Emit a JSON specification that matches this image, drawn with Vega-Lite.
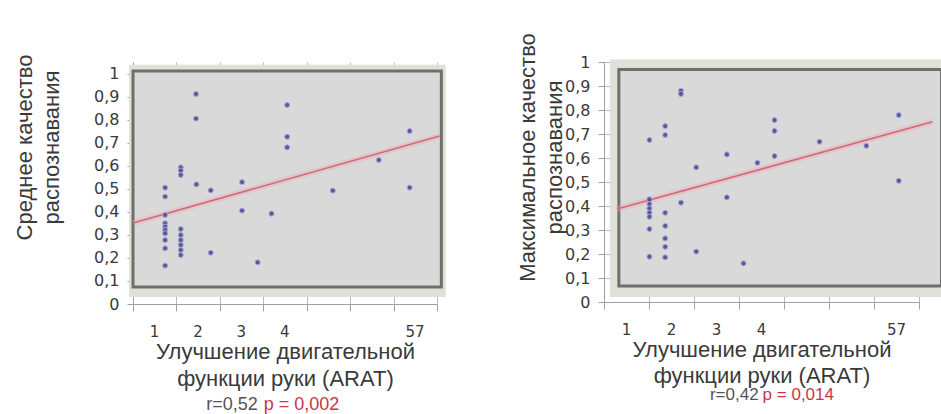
{
  "$schema": "https://vega.github.io/schema/vega-lite/v6.json",
  "padding": {"left": 13, "top": 32, "right": 0, "bottom": 0},
  "spacing": 58,
  "background": "white",
  "config": {
    "view": {"stroke": null},
    "axis": {
      "labelFont": "DejaVu Sans",
      "labelFontSize": 16,
      "labelColor": "#3a3a3a",
      "labelOverlap": false,
      "titleFont": "Liberation Sans",
      "titleFontSize": 22,
      "titleFontWeight": "normal",
      "titleColor": "#3a3a3a",
      "titleLineHeight": 27,
      "domainColor": "#a0a0a0",
      "tickColor": "#a0a0a0",
      "gridColor": "#bababa",
      "gridOpacity": 1,
      "zindex": 1
    }
  },
  "datasets": {
    "mean": [
      {"arat": 1.45, "q": 0.913}, {"arat": 1.45, "q": 0.806},
      {"arat": 3.55, "q": 0.865}, {"arat": 3.55, "q": 0.727}, {"arat": 3.55, "q": 0.681},
      {"arat": 6.37, "q": 0.752}, {"arat": 6.37, "q": 0.506},
      {"arat": 5.66, "q": 0.626}, {"arat": 4.6, "q": 0.493},
      {"arat": 2.51, "q": 0.53}, {"arat": 2.51, "q": 0.406},
      {"arat": 3.19, "q": 0.393}, {"arat": 2.87, "q": 0.181},
      {"arat": 1.79, "q": 0.223}, {"arat": 1.79, "q": 0.494},
      {"arat": 1.46, "q": 0.52},
      {"arat": 1.1, "q": 0.594}, {"arat": 1.1, "q": 0.58}, {"arat": 1.1, "q": 0.561},
      {"arat": 1.1, "q": 0.326}, {"arat": 1.1, "q": 0.3}, {"arat": 1.1, "q": 0.278},
      {"arat": 1.1, "q": 0.257}, {"arat": 1.1, "q": 0.235}, {"arat": 1.1, "q": 0.213},
      {"arat": 0.74, "q": 0.506}, {"arat": 0.74, "q": 0.467}, {"arat": 0.74, "q": 0.387},
      {"arat": 0.74, "q": 0.351}, {"arat": 0.74, "q": 0.336}, {"arat": 0.74, "q": 0.322},
      {"arat": 0.74, "q": 0.307}, {"arat": 0.74, "q": 0.278}, {"arat": 0.74, "q": 0.242},
      {"arat": 0.74, "q": 0.167}
    ],
    "meanFit": [{"arat": 0, "q": 0.352}, {"arat": 7.06, "q": 0.73}],
    "max": [
      {"arat": 1.71, "q": 0.88}, {"arat": 1.71, "q": 0.867},
      {"arat": 1.36, "q": 0.733}, {"arat": 1.36, "q": 0.696},
      {"arat": 1.01, "q": 0.675},
      {"arat": 2.05, "q": 0.561}, {"arat": 2.73, "q": 0.615}, {"arat": 2.73, "q": 0.436},
      {"arat": 3.41, "q": 0.58},
      {"arat": 3.79, "q": 0.758}, {"arat": 3.79, "q": 0.713}, {"arat": 3.79, "q": 0.608},
      {"arat": 4.79, "q": 0.668}, {"arat": 5.83, "q": 0.651},
      {"arat": 6.55, "q": 0.779}, {"arat": 6.55, "q": 0.505},
      {"arat": 1.71, "q": 0.414}, {"arat": 2.05, "q": 0.21}, {"arat": 3.1, "q": 0.161},
      {"arat": 1.36, "q": 0.372}, {"arat": 1.36, "q": 0.317}, {"arat": 1.36, "q": 0.265},
      {"arat": 1.36, "q": 0.23}, {"arat": 1.36, "q": 0.186},
      {"arat": 1.01, "q": 0.428}, {"arat": 1.01, "q": 0.408}, {"arat": 1.01, "q": 0.39},
      {"arat": 1.01, "q": 0.372}, {"arat": 1.01, "q": 0.355}, {"arat": 1.01, "q": 0.304},
      {"arat": 1.01, "q": 0.189}
    ],
    "maxFit": [{"arat": 0.29, "q": 0.3875}, {"arat": 7.3, "q": 0.751}],
    "one": [{}]
  },
  "hconcat": [
    {
      "width": 304,
      "height": 242,
      "layer": [
        {
          "data": {"name": "one"},
          "mark": {"type": "rect", "fill": "#dfe0d8", "clip": false},
          "encoding": {
            "x": {"datum": -0.09, "type": "quantitative"},
            "x2": {"datum": 7.2},
            "y": {"datum": 0.03, "type": "quantitative"},
            "y2": {"datum": 1.04}
          }
        },
        {
          "data": {"name": "one"},
          "mark": {"type": "rect", "fill": "#d9d9d9", "stroke": "#6f706a", "strokeWidth": 3, "clip": false},
          "encoding": {
            "x": {"datum": 0, "type": "quantitative"},
            "x2": {"datum": 7.1},
            "y": {"datum": 0.074, "type": "quantitative"},
            "y2": {"datum": 1.013}
          }
        },
        {
          "data": {"name": "meanFit"},
          "mark": {"type": "line", "color": "#f0a0b0", "strokeWidth": 6, "opacity": 0.35},
          "encoding": {
            "x": {"field": "arat", "type": "quantitative"},
            "y": {"field": "q", "type": "quantitative"}
          }
        },
        {
          "data": {"name": "meanFit"},
          "mark": {"type": "line", "color": "#d06a78", "strokeWidth": 1.6},
          "encoding": {
            "x": {"field": "arat", "type": "quantitative"},
            "y": {"field": "q", "type": "quantitative"}
          }
        },
        {
          "data": {"name": "mean"},
          "mark": {"type": "circle", "size": 26, "color": "#4e4e80", "opacity": 0.9, "stroke": "#a8a8f0", "strokeWidth": 1},
          "encoding": {
            "x": {
              "field": "arat", "type": "quantitative",
              "scale": {"domain": [0, 7], "nice": false, "zero": false},
              "axis": {
                "values": [0, 1, 2, 3, 4, 5, 6, 7],
                "tickCount": 20,
                "labelExpr": "datum.value == 0 ? '1' : datum.value == 1 ? '2' : datum.value == 2 ? '3' : datum.value == 3 ? '4' : datum.value == 6 ? '57' : ''",
                "labelOffset": 21,
                "labelFontSize": 15,
                "labelFlush": false,
                "labelOverlap": false,
                "tickSize": 7,
                "labelPadding": 13,
                "titlePadding": 2,
                "grid": true,
                "title": ["Улучшение двигательной", "функции руки (ARAT)"]
              }
            },
            "y": {
              "field": "q", "type": "quantitative",
              "scale": {"domain": [0, 1.052], "nice": false, "zero": false},
              "axis": {
                "values": [0, 0.1, 0.2, 0.3, 0.4, 0.5, 0.6, 0.7, 0.8, 0.9, 1],
                "tickCount": 20,
                "labelExpr": "replace(format(datum.value, '.1~f'), '.', ',')",
                "labelOverlap": false,
                "tickSize": 6,
                "labelPadding": 8,
                "grid": true,
                "titlePadding": 30,
                "titleY": 85,
                "title": ["Среднее качество", "распознавания"]
              }
            }
          }
        },
        {
          "data": {"name": "one"},
          "mark": {"type": "text", "text": "r=0,52", "align": "right", "dx": -3, "baseline": "middle", "font": "Liberation Sans", "fontSize": 18, "color": "#555555"},
          "encoding": {"x": {"datum": 2.94, "type": "quantitative"}, "y": {"datum": -0.439, "type": "quantitative"}}
        },
        {
          "data": {"name": "one"},
          "mark": {"type": "text", "text": "p = 0,002", "align": "left", "dx": 3, "baseline": "middle", "font": "Liberation Sans", "fontSize": 18, "color": "#c8364a"},
          "encoding": {"x": {"datum": 2.94, "type": "quantitative"}, "y": {"datum": -0.439, "type": "quantitative"}}
        }
      ]
    },
    {
      "width": 315,
      "height": 240,
      "layer": [
        {
          "data": {"name": "one"},
          "mark": {"type": "rect", "fill": "#dfe0d8", "clip": false},
          "encoding": {
            "x": {"datum": 0.13, "type": "quantitative"},
            "x2": {"datum": 7.6},
            "y": {"datum": 0.021, "type": "quantitative"},
            "y2": {"datum": 1.01}
          }
        },
        {
          "data": {"name": "one"},
          "mark": {"type": "rect", "fill": "#d9d9d9", "stroke": "#6f706a", "strokeWidth": 3, "clip": false},
          "encoding": {
            "x": {"datum": 0.33, "type": "quantitative"},
            "x2": {"datum": 7.5},
            "y": {"datum": 0.067, "type": "quantitative"},
            "y2": {"datum": 0.969}
          }
        },
        {
          "data": {"name": "maxFit"},
          "mark": {"type": "line", "color": "#f0a0b0", "strokeWidth": 6, "opacity": 0.35, "clip": false},
          "encoding": {
            "x": {"field": "arat", "type": "quantitative"},
            "y": {"field": "q", "type": "quantitative"}
          }
        },
        {
          "data": {"name": "maxFit"},
          "mark": {"type": "line", "color": "#d06a78", "strokeWidth": 1.6, "clip": false},
          "encoding": {
            "x": {"field": "arat", "type": "quantitative"},
            "y": {"field": "q", "type": "quantitative"}
          }
        },
        {
          "data": {"name": "max"},
          "mark": {"type": "circle", "size": 26, "color": "#4e4e80", "opacity": 0.9, "stroke": "#a8a8f0", "strokeWidth": 1},
          "encoding": {
            "x": {
              "field": "arat", "type": "quantitative",
              "scale": {"domain": [0, 7], "nice": false, "zero": false},
              "axis": {
                "values": [0, 1, 2, 3, 4, 5, 6, 7],
                "tickCount": 20,
                "labelExpr": "datum.value == 0 ? '1' : datum.value == 1 ? '2' : datum.value == 2 ? '3' : datum.value == 3 ? '4' : datum.value == 6 ? '57' : ''",
                "labelOffset": 22,
                "labelFontSize": 15,
                "labelFlush": false,
                "labelOverlap": false,
                "tickSize": 7,
                "labelPadding": 13,
                "titlePadding": 2,
                "titleLineHeight": 26,
                "grid": true,
                "title": ["Улучшение двигательной", "функции руки (ARAT)"]
              }
            },
            "y": {
              "field": "q", "type": "quantitative",
              "scale": {"domain": [0, 1], "nice": false, "zero": false},
              "axis": {
                "values": [0, 0.1, 0.2, 0.3, 0.4, 0.5, 0.6, 0.7, 0.8, 0.9, 1],
                "tickCount": 20,
                "labelExpr": "replace(format(datum.value, '.1~f'), '.', ',')",
                "labelOverlap": false,
                "tickSize": 6,
                "labelPadding": 8,
                "grid": true,
                "titlePadding": -2,
                "titleY": 95,
                "title": ["Максимальное качество", "распознавания"]
              }
            }
          }
        },
        {
          "data": {"name": "one"},
          "mark": {"type": "text", "text": "r=0,42", "align": "right", "dx": -2, "baseline": "middle", "font": "Liberation Sans", "fontSize": 17, "color": "#555555"},
          "encoding": {"x": {"datum": 3.48, "type": "quantitative"}, "y": {"datum": -0.3875, "type": "quantitative"}}
        },
        {
          "data": {"name": "one"},
          "mark": {"type": "text", "text": "p = 0,014", "align": "left", "dx": 2, "baseline": "middle", "font": "Liberation Sans", "fontSize": 17, "color": "#c8364a"},
          "encoding": {"x": {"datum": 3.48, "type": "quantitative"}, "y": {"datum": -0.3875, "type": "quantitative"}}
        }
      ]
    }
  ]
}
